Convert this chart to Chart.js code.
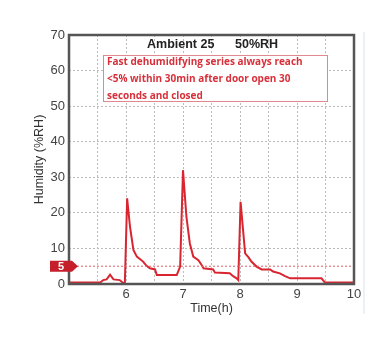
<!DOCTYPE html>
<html>
<head>
<meta charset="utf-8">
<script src="https://cdn.jsdelivr.net/npm/chart.js@4/dist/chart.umd.min.js"></script>
<style>
  html, body { margin: 0; padding: 0; background: #fff; }
  #wrap { width: 382px; height: 339px; position: relative; }
</style>
</head>
<body>
<div id="wrap"><canvas id="c" width="382" height="339"></canvas></div>
<script>
// Humidity recovery after three door openings (hours vs %RH)
const timeH = [5.0, 5.55, 5.6, 5.66, 5.72, 5.78, 5.89, 5.95, 5.98, 6.02, 6.07, 6.13, 6.19, 6.3, 6.36, 6.42, 6.51, 6.54, 6.89, 6.95,
  7.0, 7.06, 7.12, 7.18, 7.27, 7.33, 7.36, 7.53, 7.56, 7.82, 7.88, 7.94, 7.97,
  8.01, 8.09, 8.15, 8.2, 8.29, 8.38, 8.53, 8.58, 8.7, 8.79, 8.88, 9.43, 9.49, 10.0];
const humidity = [0.4, 0.4, 1.1, 1.3, 2.6, 1.3, 1.1, 0.3, 0.3, 24.1, 16.1, 9.6, 7.7, 6.3, 5.1, 4.4, 4.1, 2.5, 2.5, 4.9,
  32.0, 18.9, 11.4, 7.7, 6.7, 5.3, 4.4, 4.1, 3.2, 3.0, 2.2, 1.6, 1.1,
  23.1, 8.6, 7.5, 6.3, 4.9, 4.1, 4.1, 3.5, 3.0, 2.2, 1.6, 1.6, 0.4, 0.4];
const thresholdValue = 5;
const xRange = [5, 10];
const yRange = [0, 70];
const noteLines = [
  'Fast dehumidifying series always reach',
  '<5% within 30min after door open 30',
  'seconds and closed'
];

const curve = timeH.map((t, i) => ({ x: t, y: humidity[i] }));
const thresholdLine = xRange.map(t => ({ x: t, y: thresholdValue }));

const frameAndNotes = {
  id: 'frameAndNotes',
  afterDatasetsDraw(chart) {
    const { ctx, chartArea: a, scales } = chart;
    ctx.save();
    // plot frame
    ctx.strokeStyle = '#555';
    ctx.lineWidth = 2.5;
    ctx.strokeRect(a.left, a.top, a.right - a.left, a.bottom - a.top);

    // faint outer edge line
    ctx.strokeStyle = '#e4ecf4';
    ctx.lineWidth = 1.5;
    ctx.beginPath();
    ctx.moveTo(364, 32); ctx.lineTo(364, 314);
    ctx.stroke();

    // title inside the plot
    ctx.fillStyle = '#222';
    ctx.font = 'bold 12.5px "Liberation Sans", Arial, sans-serif';
    ctx.textAlign = 'left';
    ctx.textBaseline = 'middle';
    ctx.fillText('Ambient 25', 147, 45);
    ctx.fillText('50%RH', 235, 45);

    // note box
    const bx = 103, by = 55, bw = 224, bh = 46;
    ctx.fillStyle = '#fff';
    ctx.fillRect(bx, by, bw, bh);
    ctx.strokeStyle = '#e08890';
    ctx.lineWidth = 1;
    ctx.strokeRect(bx + 0.5, by + 0.5, bw, bh);
    ctx.fillStyle = '#d8303a';
    ctx.font = 'bold 10px "Open Sans", sans-serif';
    noteLines.forEach((s, i) => ctx.fillText(s, 107, 62 + i * 17));

    // threshold tag on the y axis
    const yp = scales.y.getPixelForValue(thresholdValue);
    ctx.fillStyle = '#c41f2b';
    ctx.beginPath();
    ctx.moveTo(50, yp - 5.5);
    ctx.lineTo(72, yp - 5.5);
    ctx.lineTo(78, yp);
    ctx.lineTo(72, yp + 5.5);
    ctx.lineTo(50, yp + 5.5);
    ctx.closePath();
    ctx.fill();
    ctx.fillStyle = '#fff';
    ctx.font = 'bold 11px "Liberation Sans", Arial, sans-serif';
    ctx.textAlign = 'center';
    ctx.fillText(String(thresholdValue), 61, yp + 0.5);
    ctx.restore();
  }
};

new Chart(document.getElementById('c'), {
  type: 'line',
  data: {
    datasets: [
      {
        data: thresholdLine,
        borderColor: '#e0606a',
        borderWidth: 1,
        borderDash: [2, 2],
        pointRadius: 0,
        tension: 0
      },
      {
        data: curve,
        borderColor: '#d8252f',
        borderWidth: 2,
        pointRadius: 0,
        tension: 0
      }
    ]
  },
  options: {
    responsive: false,
    animation: false,
    layout: { padding: { top: 35, right: 28, left: 0, bottom: 0 } },
    plugins: { legend: { display: false }, tooltip: { enabled: false } },
    scales: {
      x: {
        type: 'linear',
        min: xRange[0],
        max: xRange[1],
        afterFit(s) { s.height = 55; },
        ticks: {
          stepSize: 0.5,
          autoSkip: false,
          maxRotation: 0,
          padding: 3,
          color: '#444',
          font: { family: '"Liberation Sans", Arial, sans-serif', size: 13 },
          callback: v => (Number.isInteger(v) && v > xRange[0]) ? String(v) : ''
        },
        grid: { color: '#bcbcbc', lineWidth: 1, drawTicks: false },
        border: { display: false, dash: [2, 2] },
        title: {
          display: true,
          text: 'Time(h)',
          color: '#333',
          padding: { top: 0, bottom: 23 },
          font: { family: '"Liberation Sans", Arial, sans-serif', size: 12.5 }
        }
      },
      y: {
        min: yRange[0],
        max: yRange[1],
        afterFit(s) { s.width = 69; },
        ticks: {
          stepSize: 10,
          padding: 4,
          color: '#444',
          font: { family: '"Liberation Sans", Arial, sans-serif', size: 13 }
        },
        grid: { color: '#bcbcbc', lineWidth: 1, drawTicks: false },
        border: { display: false, dash: [2, 2] },
        title: {
          display: true,
          text: 'Humidity (%RH)',
          color: '#333',
          padding: { top: 32, bottom: 0 },
          font: { family: '"Liberation Sans", Arial, sans-serif', size: 12.5 }
        }
      }
    }
  },
  plugins: [frameAndNotes]
});
</script>
</body>
</html>
